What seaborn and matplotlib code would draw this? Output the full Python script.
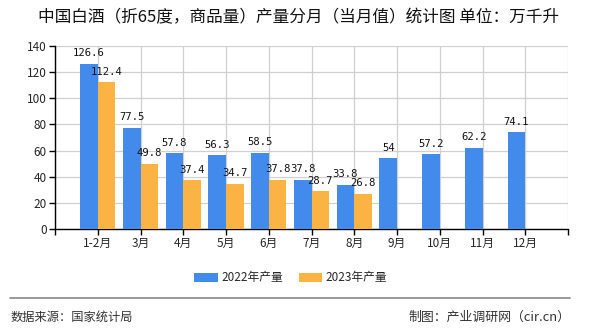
import matplotlib
matplotlib.use("Agg")
import matplotlib.pyplot as plt
import seaborn as sns
import pandas as pd
import numpy as np
from matplotlib.patches import Patch

months = ["1-2月", "3月", "4月", "5月", "6月", "7月", "8月", "9月", "10月", "11月", "12月"]
y2022 = [126.6, 77.5, 57.8, 56.3, 58.5, 37.8, 33.8, 54, 57.2, 62.2, 74.1]
y2023 = [112.4, 49.8, 37.4, 34.7, 37.8, 28.7, 26.8, None, None, None, None]
series = ["2022年产量", "2023年产量"]
colors = ["#428BEC", "#FBB444"]
yticks = [0, 20, 40, 60, 80, 100, 120, 140]

sns.set_theme(style="white")
plt.rcParams['font.family'] = ['Noto Sans CJK SC', 'DejaVu Sans']

df = pd.DataFrame({
    "month": months * 2,
    "value": [np.nan if v is None else v for v in y2022 + y2023],
    "series": [series[0]] * len(months) + [series[1]] * len(months),
})

fig = plt.figure(figsize=(5.9, 3.3), dpi=100)
ax = fig.add_axes([55/590, 1-229/330, 513/590, 183/330])

sns.barplot(data=df, x="month", y="value", hue="series", order=months,
            hue_order=series, palette=colors, width=0.82, dodge=True,
            saturation=1, ax=ax, legend=False, errorbar=None, zorder=3,
            linewidth=0, edgecolor="none")

for cont in ax.containers:
    labels = []
    for b in cont:
        h = b.get_height()
        labels.append("" if np.isnan(h) else f"{h:g}")
    ax.bar_label(cont, labels=labels, padding=4, fontsize=7.6,
                 family=['DejaVu Sans Mono'], color="#111111")

ax.set_xlim(-1, 11)
ax.set_ylim(0, 140)
ax.set_yticks(yticks)
ax.set_yticklabels([str(t) for t in yticks], fontsize=8.5)
ax.set_xticks(np.arange(-1, 12))
ax.set_xticklabels([""] + months + [""], fontsize=8.5)
ax.grid(True, color="#D0D0D0", linewidth=0.9, zorder=0)
ax.set_axisbelow(True)
for s in ["top", "right"]:
    ax.spines[s].set_visible(False)
for s in ["left", "bottom"]:
    ax.spines[s].set_color("black")
    ax.spines[s].set_linewidth(1)
ax.tick_params(axis="both", which="both", direction="out", length=4,
               width=1, color="black", bottom=True, left=True, pad=2)
ax.set_xlabel("")
ax.set_ylabel("")

fig.text(298/590, 1-18/330, "中国白酒（折65度，商品量）产量分月（当月值）统计图 单位：万千升",
         ha="center", va="center", fontsize=12, color="#111111")

handles = [Patch(facecolor=c, edgecolor="none") for c in colors]
fig.legend(handles, series, loc="center", bbox_to_anchor=(291/590, 1-278/330),
           ncol=2, frameon=False, fontsize=8.5, handlelength=2.0,
           handleheight=0.75, columnspacing=1.3, handletextpad=0.3)

fig.add_artist(plt.Line2D([10/590, 570/590], [1-298/330, 1-298/330],
                          color="#888888", linewidth=1.2))
fig.text(11/590, 1-317/330, "数据来源：国家统计局", ha="left", va="center",
         fontsize=8.8, color="#333333")
fig.text(570/590, 1-317/330, "制图：产业调研网（cir.cn）", ha="right", va="center",
         fontsize=9.3, color="#333333")

fig.savefig("out.png", dpi=100)
